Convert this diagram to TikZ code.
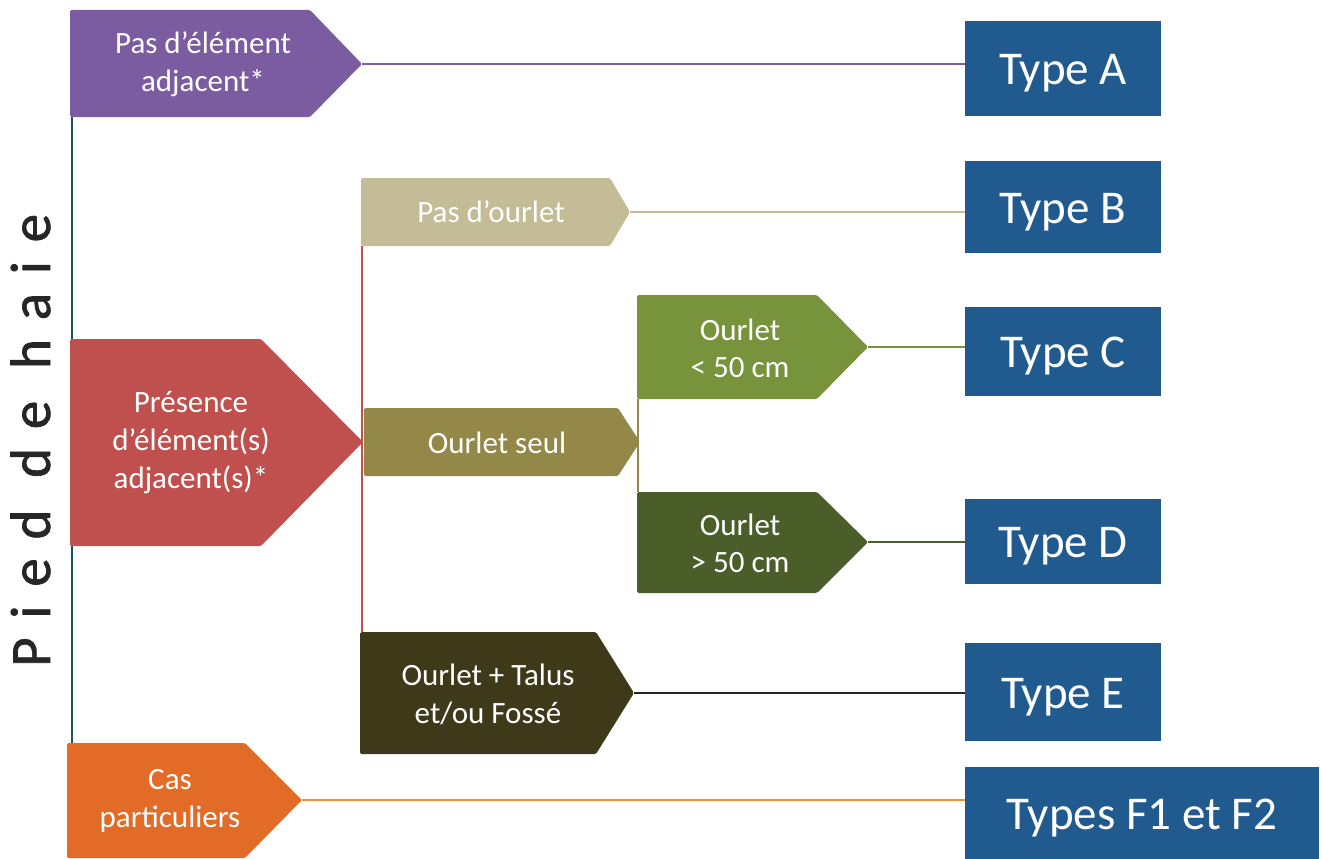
\documentclass[tikz,border=0pt]{standalone}
\usepackage{fontspec}
\setmainfont{Carlito}
\newfontfamily\vertfont[LetterSpace=33,FakeBold=1.2]{Carlito}
\definecolor{cpurple}{HTML}{7B5CA0}
\definecolor{cbeige}{HTML}{C4BC96}
\definecolor{cred}{HTML}{C0504D}
\definecolor{colive}{HTML}{938847}
\definecolor{cgreen}{HTML}{77933C}
\definecolor{cdgreen}{HTML}{4B5E29}
\definecolor{cdark}{HTML}{3E3919}
\definecolor{corange}{HTML}{E26B27}
\definecolor{corangeline}{HTML}{F0903A}
\definecolor{cblue}{HTML}{215A8E}
\definecolor{cteal}{HTML}{17575F}
\definecolor{ctext}{HTML}{262626}
\newcommand\chevbox[8]{% name, colour, xl, yt, xr, xtip, yb, ytip
  \fill[#2, rounded corners=1.5pt] (#3,#4) -- (#5,#4) -- (#6,#8) -- (#5,#7) -- (#3,#7) -- cycle;
  \coordinate (#1tip) at (#6,#8);
}
\begin{document}
\begin{tikzpicture}[x=1pt,y=-1pt,
  lbl/.style={text=white, align=center, font=\fontsize{31}{38}\selectfont, inner sep=0pt},
  typebox/.style={fill=cblue, text=white, font=\fontsize{47}{56}\selectfont, minimum width=196pt, text height=32pt, text depth=0pt, inner sep=0pt},
  link/.style={line width=1.6pt}]
\useasboundingbox (0,0) rectangle (1323,859);

% result boxes
\node[typebox, minimum height=95pt] (tA) at (1063,68.5) {Type A};
\node[typebox, minimum height=92pt] (tB) at (1063,207) {Type B};
\node[typebox, minimum height=89pt] (tC) at (1063,351.5) {Type C};
\node[typebox, minimum height=85pt] (tD) at (1063,541.5) {Type D};
\node[typebox, minimum height=98pt] (tE) at (1063,692) {Type E};
\node[typebox, minimum width=354pt, minimum height=92pt] (tF) at (1142,813) {Types F1 et F2};

% trunk lines
\coordinate (tealtop) at (72,117);
\coordinate (tealbot) at (72,743);
\coordinate (redtop) at (362,246);
\coordinate (redbot) at (362,632);
\coordinate (olivetop) at (638,399);
\coordinate (olivebot) at (638,492);
\draw[link, cteal] (tealtop) -- (tealbot);
\draw[link, cred] (redtop) -- (redbot);
\draw[link, colive] (olivetop) -- (olivebot);

% chevron shapes
\chevbox{pa}{cpurple}{70}{10}{310}{362}{117}{64}
\chevbox{po}{cbeige}{361}{178}{610}{630}{246}{212}
\chevbox{pr}{cred}{70}{339}{261}{363}{546}{442}
\chevbox{os}{colive}{364}{408}{618}{640}{476}{442}
\chevbox{oc}{cgreen}{637}{295}{817}{868}{399}{347}
\chevbox{od}{cdgreen}{637}{492}{817}{868}{593}{542}
\chevbox{ot}{cdark}{360}{632}{596}{634}{754}{693}
\chevbox{cp}{corange}{67}{743}{245}{302}{858}{800}

% labels
\node[lbl] (lpa) at (203,64) {Pas d’élément\\adjacent*};
\node[lbl] (lpo) at (491,212) {Pas d’ourlet};
\node[lbl] (lpr) at (191,443) {Présence\\d’élément(s)\\adjacent(s)*};
\node[lbl] (los) at (497,443) {Ourlet seul};
\node[lbl, font=\fontsize{31}{37}\selectfont] (loc) at (740,348) {Ourlet\\< 50 cm};
\node[lbl, font=\fontsize{31}{37}\selectfont] (lod) at (740,543) {Ourlet\\> 50 cm};
\node[lbl] (lot) at (488,694) {Ourlet + Talus\\et/ou Fossé};
\node[lbl] (lcp) at (170,801) {Cas\\particuliers};

% connectors
\draw[link, cpurple] (patip) -- (patip -| tA.west);
\draw[link, cbeige] (potip) -- (potip -| tB.west);
\draw[link, cgreen] (octip) -- (octip -| tC.west);
\draw[link, cdgreen] (odtip) -- (odtip -| tD.west);
\draw[link, black!85] (ottip) -- (ottip -| tE.west);
\draw[link, corangeline] (cptip) -- (cptip -| tF.west);

% vertical title
\node[rotate=90, anchor=base west, inner sep=0pt, text=ctext, font=\vertfont\fontsize{57}{60}\selectfont] (title) at (50,667) {Pied de haie};
\end{tikzpicture}
\end{document}
